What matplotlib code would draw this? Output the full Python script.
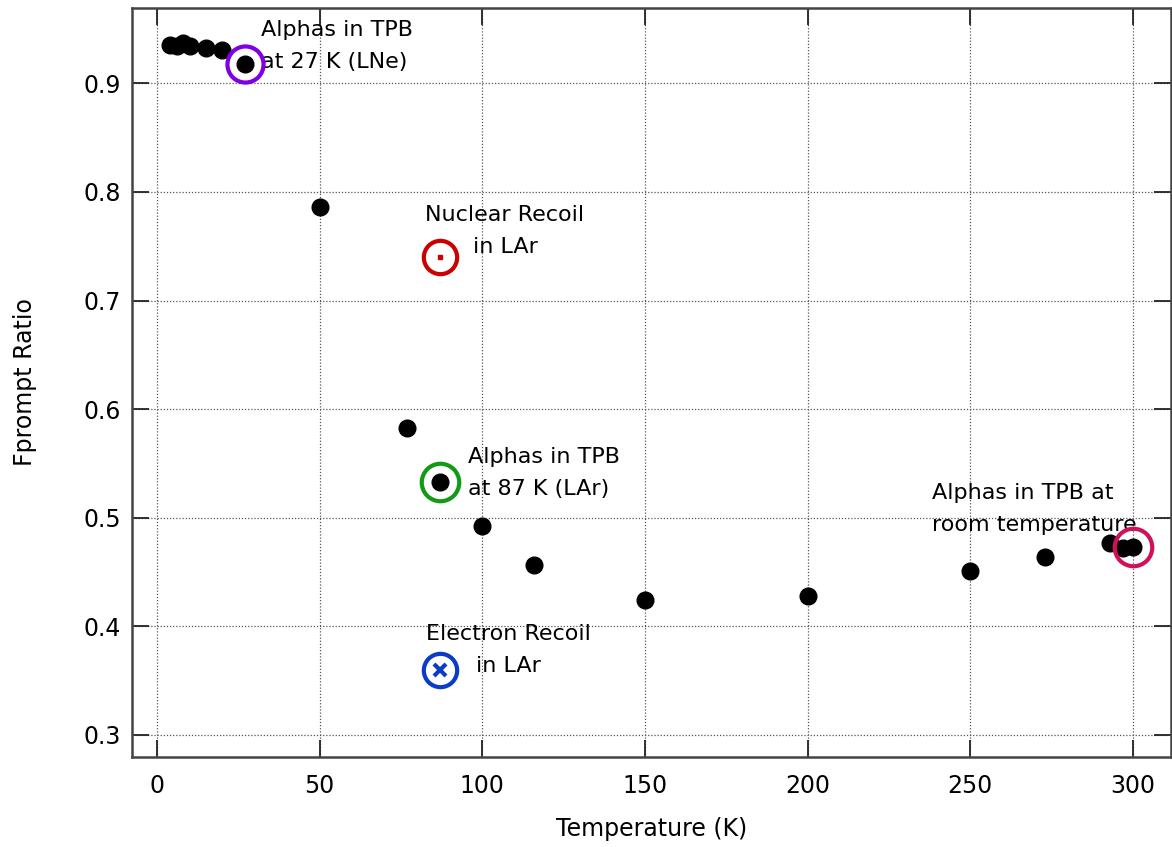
import matplotlib
matplotlib.use("Agg")
import matplotlib.pyplot as plt

# alphas in TPB, fprompt vs temperature
temps = [4, 6, 8, 10, 15, 20, 27, 50, 77, 87, 100, 116, 150, 200, 250, 273, 293, 297, 300]
fprompt = [0.935, 0.934, 0.937, 0.934, 0.933, 0.931, 0.918, 0.786, 0.583, 0.533,
           0.492, 0.456, 0.424, 0.428, 0.451, 0.464, 0.477, 0.472, 0.473]

# highlighted points
lne_T, lne_F = 27, 0.918
lar_T, lar_F = 87, 0.533
room_T, room_F = 300, 0.473
nr_T, nr_F = 87, 0.74
er_T, er_F = 87, 0.36

xticks = [0, 50, 100, 150, 200, 250, 300]
yticks = [0.3, 0.4, 0.5, 0.6, 0.7, 0.8, 0.9]

plt.rcParams['font.family'] = ['DejaVu Sans']

fig = plt.figure(figsize=(11.72, 8.47), dpi=100)
ax = fig.add_axes([0.1126, 0.1063, 0.8864, 0.8843])

ax.plot(temps, fprompt, 'o', color='black', markersize=12, zorder=3)

ax.plot(lne_T, lne_F, 'o', mfc='none', mec='#8000e6', markersize=26, mew=3, zorder=4)
ax.plot(lar_T, lar_F, 'o', mfc='none', mec='#139a13', markersize=27, mew=3, zorder=4)
ax.plot(room_T, room_F, 'o', mfc='none', mec='#d0105a', markersize=27, mew=3, zorder=4)
ax.plot(nr_T, nr_F, 'o', mfc='none', mec='#cc0000', markersize=24, mew=3, zorder=4)
ax.plot(nr_T, nr_F, 's', color='#cc0000', markersize=2.5, zorder=4)
ax.plot(er_T, er_F, 'o', mfc='none', mec='#0a3cc8', markersize=24, mew=3, zorder=4)
ax.plot(er_T, er_F, 'x', color='#0a3cc8', markersize=8, mew=3, zorder=4)

fs = 16
ls = 1.75
ax.text(32, 0.934, "Alphas in TPB\nat 27 K (LNe)", fontsize=fs, ha='left', va='center', linespacing=ls)
ax.text(107, 0.7636, "Nuclear Recoil\nin LAr", fontsize=fs, ha='center', va='center', multialignment='center', linespacing=ls)
ax.text(95.7, 0.5415, "Alphas in TPB\nat 87 K (LAr)", fontsize=fs, ha='left', va='center', linespacing=ls)
ax.text(108, 0.378, "Electron Recoil\nin LAr", fontsize=fs, ha='center', va='center', multialignment='center', linespacing=ls)
ax.text(238.2, 0.5083, "Alphas in TPB at\nroom temperature", fontsize=fs, ha='left', va='center', linespacing=ls)

ax.set_xlim(-7.7, 311.7)
ax.set_ylim(0.2795, 0.9695)
ax.set_xticks(xticks)
ax.set_yticks(yticks)
ax.set_xticklabels([str(t) for t in xticks])
ax.set_yticklabels([f"{t:.1f}" for t in yticks])
ax.tick_params(direction='in', length=12, width=1.3, top=True, right=True,
               labelsize=17, color='#222222')
ax.tick_params(axis='x', pad=12)
ax.tick_params(axis='y', pad=8)
ax.grid(True, linestyle=(0, (1, 1.5)), color='#555555', linewidth=0.9)
for s in ax.spines.values():
    s.set_color('#444444')
    s.set_linewidth(1.8)

ax.set_xlabel("Temperature (K)", fontsize=17, labelpad=14)
ax.set_ylabel("Fprompt Ratio", fontsize=17, labelpad=33)

fig.savefig("out.png", dpi=100)
